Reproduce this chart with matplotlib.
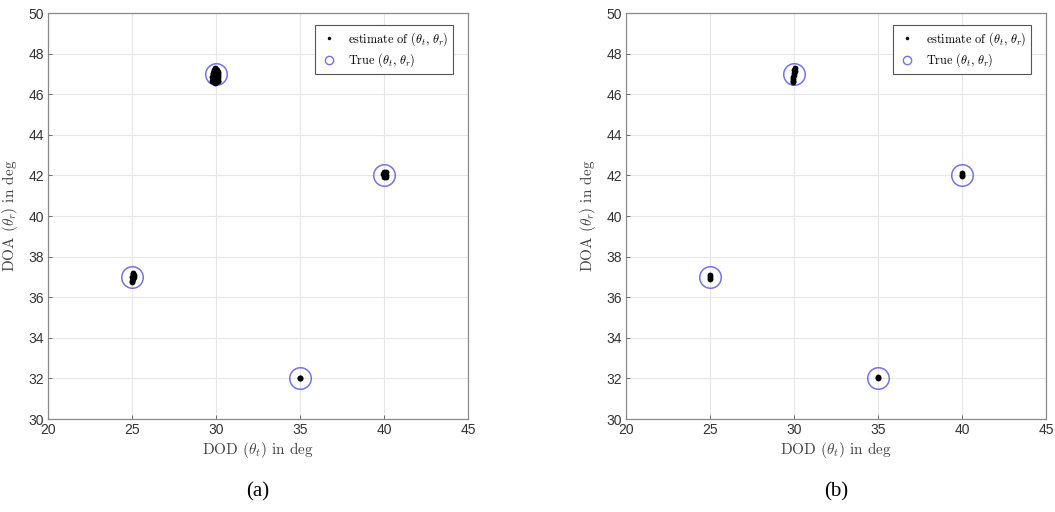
import matplotlib
matplotlib.use("Agg")
import matplotlib.pyplot as plt
from matplotlib.lines import Line2D

# True target positions (DOD, DOA)
true_dod = [25, 30, 35, 40]
true_doa = [37, 47, 32, 42]

# Estimates, panel (a)
est_a_dod = [29.95, 30.0, 29.9, 30.05, 29.85, 29.95, 30.1, 29.8, 29.9, 30.0, 30.1, 30.15,
             29.85, 29.95, 30.05, 29.8, 29.9, 30.0, 30.1, 29.95, 29.85, 30.05,
             29.8, 30.15, 29.75, 30.12, 29.78, 30.0, 29.88, 30.08,
             25.05, 25.1, 25.1, 25.0, 25.05, 25.0, 24.98, 25.08,
             40.0, 40.1, 40.05, 40.15, 40.0, 40.1, 39.95,
             35.0, 35.02]
est_a_doa = [47.3, 47.25, 47.15, 47.15, 47.0, 47.05, 47.0, 46.9, 46.85, 46.95, 46.9, 46.8,
             46.7, 46.7, 46.75, 46.75, 46.6, 46.6, 46.65, 46.55, 46.85, 47.05,
             47.05, 47.1, 46.85, 46.65, 46.65, 46.8, 47.2, 47.2,
             37.15, 37.1, 37.0, 37.0, 36.9, 36.8, 36.75, 37.2,
             42.15, 42.15, 42.0, 42.0, 41.9, 41.9, 42.05,
             32.0, 32.02]

# Estimates, panel (b)
est_b_dod = [30.05, 30.05, 30.0, 30.02, 29.97, 29.95, 29.95, 29.93, 30.0,
             25.0, 25.02, 24.98,
             35.0, 35.0,
             40.0, 40.02, 40.0]
est_b_doa = [47.3, 47.15, 47.05, 46.95, 46.85, 46.75, 46.65, 46.6, 47.2,
             37.08, 36.98, 36.92,
             32.0, 32.05,
             42.1, 42.0, 41.95]

x_ticks = [20, 25, 30, 35, 40, 45]
y_ticks = [30, 32, 34, 36, 38, 40, 42, 44, 46, 48, 50]
panel_labels = ["(a)", "(b)"]

plt.rcParams['mathtext.fontset'] = 'cm'
serif = 'cmr10'
circ_color = (0.45, 0.45, 0.9)

fig = plt.figure(figsize=(10.55, 5.12), dpi=100)
positions = [[0.0455, 0.1816, 0.398, 0.793], [0.5934, 0.1816, 0.398, 0.793]]
data = [(est_a_dod, est_a_doa), (est_b_dod, est_b_doa)]

for pos, (ex, ey), lab in zip(positions, data, panel_labels):
    ax = fig.add_axes(pos)
    ax.plot(true_dod, true_doa, linestyle='none', marker='o', markersize=15.5,
            markerfacecolor='none', markeredgecolor=circ_color, markeredgewidth=1.1, zorder=3)
    ax.plot(ex, ey, linestyle='none', marker='o', markersize=4.2,
            color='black', markeredgewidth=0, zorder=4)
    ax.set_xlim(20, 45)
    ax.set_ylim(30, 50)
    ax.set_xticks(x_ticks)
    ax.set_yticks(y_ticks)
    ax.grid(True, color='#e6e6e6', linewidth=0.8)
    ax.set_axisbelow(True)
    ax.tick_params(direction='in', length=3, width=0.6, colors='#555555',
                   labelsize=10, pad=3)
    for t in ax.get_xticklabels() + ax.get_yticklabels():
        t.set_fontfamily('Liberation Sans')
        t.set_color('#333333')
    for s in ax.spines.values():
        s.set_color('#8a8a8a')
        s.set_linewidth(0.9)
    ax.set_xlabel(r'DOD ($\theta_t$) in deg', fontfamily=serif, fontsize=11,
                  color='#444444', labelpad=2)
    ax.set_ylabel(r'DOA ($\theta_r$) in deg', fontfamily=serif, fontsize=11,
                  color='#444444', labelpad=6)
    handles = [
        Line2D([], [], linestyle='none', marker='o', markersize=2.5, color='black',
               markeredgewidth=0),
        Line2D([], [], linestyle='none', marker='o', markersize=6,
               markerfacecolor='none', markeredgecolor=circ_color, markeredgewidth=1.0),
    ]
    leg = ax.legend(handles, [r'estimate of $(\theta_t,\,\theta_r)$', r'True $(\theta_t,\,\theta_r)$'],
                    loc='upper right', bbox_to_anchor=(0.98, 0.985), fancybox=False,
                    framealpha=1, edgecolor='#555555', prop={'family': serif, 'size': 8.8},
                    handlelength=1.5, borderpad=0.4, labelspacing=0.3, handletextpad=0.8)
    leg.get_frame().set_linewidth(0.8)
    fig.text(pos[0] + pos[2] / 2, 0.04, lab, ha='center', va='center',
             fontfamily=['Liberation Serif', 'DejaVu Serif'], fontsize=15)

fig.savefig('out.png', dpi=100)
